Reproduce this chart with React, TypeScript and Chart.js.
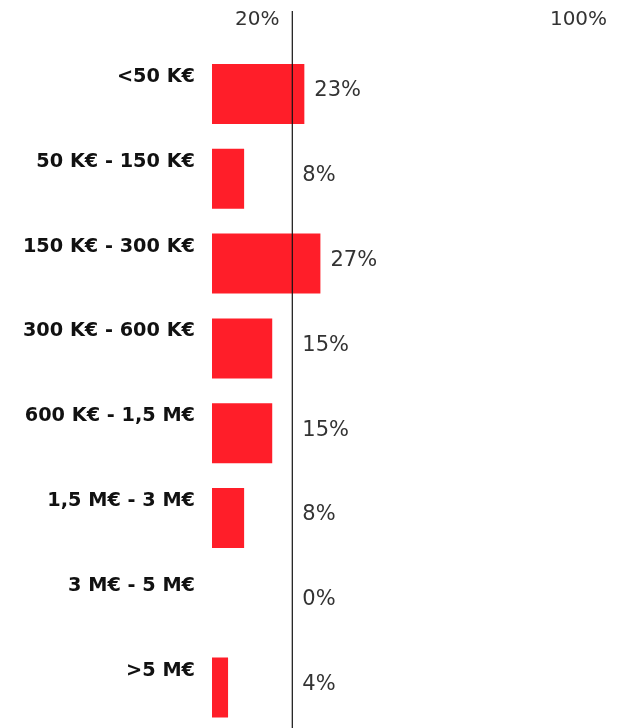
import React, { useEffect, useRef } from 'react';
import { Chart, registerables } from 'chart.js';

Chart.register(...registerables);

const CATEGORIES = [
  '<50 K€',
  '50 K€ - 150 K€',
  '150 K€ - 300 K€',
  '300 K€ - 600 K€',
  '600 K€ - 1,5 M€',
  '1,5 M€ - 3 M€',
  '3 M€ - 5 M€',
  '>5 M€',
];
const SHARES = [23, 8, 27, 15, 15, 8, 0, 4];
const X_TICKS = [20, 100];
const REFERENCE_LINE = 20;

const BAR_COLOR = '#FF1E29';
const TEXT_FONT = '"DejaVu Sans", sans-serif';

const valueLabelPlugin = {
  id: 'valueLabels',
  afterDatasetsDraw(chart: any) {
    const { ctx, scales } = chart;
    const x = scales.x;
    const lineX = x.getPixelForValue(REFERENCE_LINE);
    ctx.save();
    ctx.strokeStyle = '#111';
    ctx.lineWidth = 1.2;
    ctx.beginPath();
    ctx.moveTo(lineX, 11);
    ctx.lineTo(lineX, chart.height);
    ctx.stroke();

    const meta = chart.getDatasetMeta(0);
    ctx.font = `normal 21px ${TEXT_FONT}`;
    ctx.fillStyle = '#333';
    ctx.textAlign = 'left';
    ctx.textBaseline = 'middle';
    meta.data.forEach((bar: any, i: number) => {
      const end = Math.max(bar.x, lineX);
      ctx.fillText(`${SHARES[i]}%`, end + 10, bar.y - 3);
    });
    ctx.restore();
  },
};

export default function App() {
  const canvasRef = useRef<HTMLCanvasElement | null>(null);

  useEffect(() => {
    const canvas = canvasRef.current;
    if (!canvas) return;
    const chart = new Chart(canvas, {
      type: 'bar',
      data: {
        labels: CATEGORIES,
        datasets: [
          {
            data: SHARES,
            backgroundColor: BAR_COLOR,
            borderWidth: 0,
            categoryPercentage: 1,
            barPercentage: 0.707,
          },
        ],
      },
      options: {
        indexAxis: 'y',
        responsive: false,
        maintainAspectRatio: false,
        animation: false,
        devicePixelRatio: 1,
        layout: { padding: { left: 0, right: 3.5, top: 0, bottom: 0 } },
        plugins: {
          legend: { display: false },
          tooltip: { enabled: false },
        },
        scales: {
          x: {
            type: 'linear',
            position: 'top',
            min: 0,
            max: 100,
            grid: { display: false, drawTicks: false },
            border: { display: false },
            afterBuildTicks: (s: any) => {
              s.ticks = X_TICKS.map((v) => ({ value: v }));
            },
            afterFit: (s: any) => {
              s.height = 51.6;
              s.paddingLeft = 0;
              s.paddingRight = 0;
            },
            ticks: {
              callback: (v: any) => `${v}%`,
              font: { family: TEXT_FONT, size: 20, weight: 'normal' },
              color: '#333',
              labelOffset: -35,
              padding: 19.6,
              maxRotation: 0,
              autoSkip: false,
            },
          },
          y: {
            grid: { display: false, drawTicks: false },
            border: { display: false },
            afterFit: (s: any) => {
              s.width = 212;
              s.paddingTop = 0;
              s.paddingBottom = 0;
            },
            ticks: {
              font: { family: TEXT_FONT, size: 19.3, weight: 'bold' },
              color: '#111',
              padding: 17,
              labelOffset: -17,
              autoSkip: false,
            },
          },
        },
      },
      plugins: [valueLabelPlugin],
    });
    return () => chart.destroy();
  }, []);

  return (
    <div
      style={{
        position: 'fixed',
        left: 0,
        top: 0,
        width: 617,
        height: 728,
        overflow: 'hidden',
        background: '#fff',
      }}
    >
      <canvas
        ref={canvasRef}
        width={617}
        height={730}
        style={{ display: 'block', width: 617, height: 730 }}
      />
    </div>
  );
}
